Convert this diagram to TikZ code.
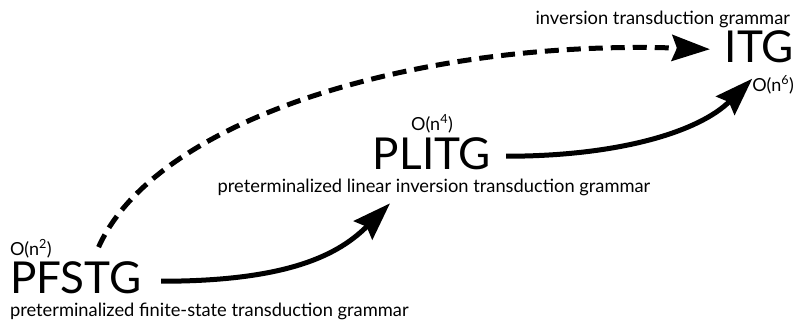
\documentclass[tikz,border=0pt]{standalone}
\usepackage{fontspec}
\setmainfont{Lato}
\usetikzlibrary{arrows.meta}

\begin{document}
\begin{tikzpicture}[x=1pt, y=1pt,
    every node/.style = {inner sep=0pt, outer sep=0pt},
    gram/.style = {font=\fontsize{44}{50}\selectfont},
    cost/.style = {font=\fontsize{18}{21}\selectfont},
    full/.style = {font=\fontsize{18.3}{21}\selectfont},
    link/.style = {line width=5pt, -{Stealth[length=38pt, width=26pt, inset=5pt]}}]
    \useasboundingbox (0,0) rectangle (797,322);
    % the three grammars
    \node[gram, anchor=base west] (pfstg) at (10,29) {PFSTG};
    \node[cost, anchor=base west] (n2) at (10,67) {O(n\textsuperscript{2})};
    \node[full, anchor=base west] (pfstgname) at (10,6)
      {preterminalized finite-state transduction grammar};
    \node[gram, anchor=base] (plitg) at (432,153) {PLITG};
    \node[cost, anchor=base] (n4) at (432,192) {O(n\textsuperscript{4})};
    \node[full, anchor=base] (plitgname) at (434,130)
      {preterminalized linear inversion transduction grammar};
    \node[gram, anchor=base east] (itg) at (794,259) {ITG};
    \node[cost, anchor=base east] (n6) at (794,231) {O(n\textsuperscript{6})};
    \node[full, anchor=base east] (itgname) at (790,297)
      {inversion transduction grammar};
    % reductions
    \draw[link, dashed, dash pattern=on 14pt off 8pt]
      ([xshift=23pt, yshift=14pt]pfstg.north) .. controls +(58,130) and +(-287,10)
      .. ([xshift=-15pt, yshift=-2pt]itg.west);
    \draw[link] ([xshift=20pt, yshift=-4pt]pfstg.east) .. controls +(130,0) and +(-50,-50)
      .. ([xshift=-44pt, yshift=-8pt]plitgname.south);
    \draw[link] ([xshift=15pt, yshift=-3pt]plitg.east) .. controls +(113,0) and +(-53,-53)
      .. ([yshift=6pt]n6.west);
\end{tikzpicture}
\end{document}
